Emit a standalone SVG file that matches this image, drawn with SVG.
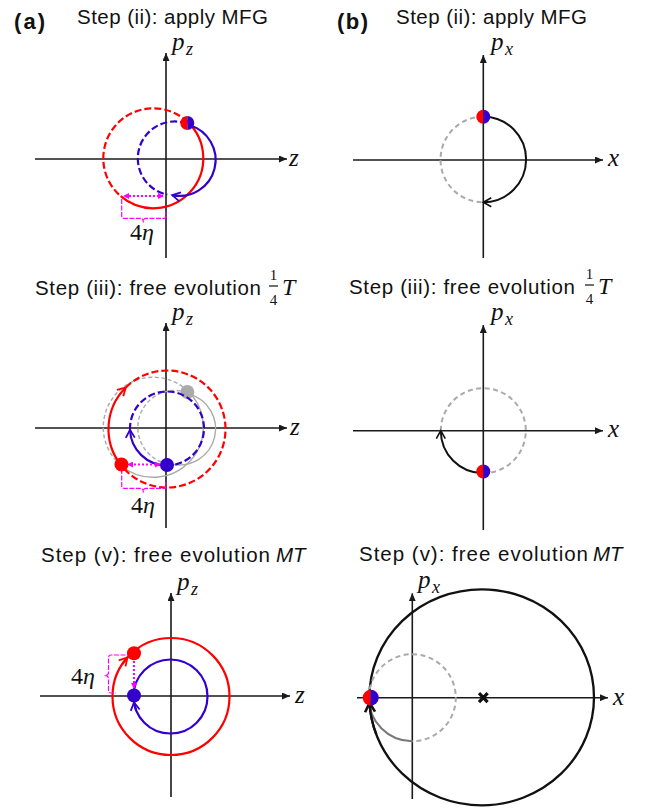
<svg xmlns="http://www.w3.org/2000/svg" width="648" height="808" viewBox="0 0 648 808">
<style>
.title{font-family:"Liberation Sans",Arial,sans-serif;font-size:20.5px;fill:#111}
.lbl{font-family:"Liberation Sans",Arial,sans-serif;font-size:22px;font-weight:bold;fill:#111}
.m{font-family:"Liberation Serif","Times New Roman",serif;font-style:italic;font-size:25px;fill:#111}
.ms{font-family:"Liberation Serif","Times New Roman",serif;font-style:italic;font-size:18px;fill:#111}
.mu{font-family:"Liberation Serif","Times New Roman",serif;font-size:24px;fill:#111}
.fr{font-family:"Liberation Serif","Times New Roman",serif;font-size:15px;fill:#111}
.axis{stroke:#1a1a1a;stroke-width:1.6;fill:none;marker-end:url(#ax)}
.red{stroke:#f00;stroke-width:2.2;fill:none}
.blue{stroke:#3300cc;stroke-width:2.2;fill:none}
.dash{stroke-dasharray:7 3}
.gry{stroke:#aaa;stroke-width:1.4;fill:none}
.gdash{stroke-dasharray:4 2.5}
.gd{stroke:#aaa;stroke-width:2;fill:none;stroke-dasharray:5 3.5}
.blk{stroke:#111;stroke-width:2;fill:none}
.mag{stroke:#f0f;stroke-width:2;fill:none;stroke-dasharray:2 2}
.brace{stroke:#f0f;stroke-width:1.2;fill:none;stroke-dasharray:5 1.5}
</style>
<defs>
<marker id="ax" viewBox="0 0 8 7" refX="8" refY="3.5" markerWidth="8" markerHeight="7" markerUnits="userSpaceOnUse" orient="auto"><path d="M0,0 L8,3.5 L0,7 z" fill="#1a1a1a"/></marker>
<marker id="vR" viewBox="-1 -1 11 11" refX="8" refY="4.5" markerWidth="11" markerHeight="11" markerUnits="userSpaceOnUse" orient="auto" overflow="visible"><path d="M0,0 L8,4.5 L0,9" fill="none" stroke="#f00" stroke-width="1.8"/></marker>
<marker id="vB" viewBox="-1 -1 11 11" refX="8" refY="4.5" markerWidth="11" markerHeight="11" markerUnits="userSpaceOnUse" orient="auto" overflow="visible"><path d="M0,0 L8,4.5 L0,9" fill="none" stroke="#3300cc" stroke-width="1.8"/></marker>
<marker id="vK" viewBox="-1 -1 11 11" refX="8" refY="4.5" markerWidth="11" markerHeight="11" markerUnits="userSpaceOnUse" orient="auto" overflow="visible"><path d="M0,0 L8,4.5 L0,9" fill="none" stroke="#111" stroke-width="1.6"/></marker>
<marker id="vKt" viewBox="-1 -1 12 12" refX="9" refY="5" markerWidth="12" markerHeight="12" markerUnits="userSpaceOnUse" orient="auto" overflow="visible"><path d="M0,0 L9,5 L0,10" fill="none" stroke="#111" stroke-width="2.6"/></marker>
<marker id="mg" viewBox="0 0 6 6" refX="5" refY="3" markerWidth="6" markerHeight="6" markerUnits="userSpaceOnUse" orient="auto-start-reverse"><path d="M0,0 L6,3 L0,6 z" fill="#f0f"/></marker>
<g id="rb"><path d="M0,-7 A7,7 0 0 0 0,7 Z" fill="#f00"/><path d="M0,-7 A7,7 0 0 1 0,7 Z" fill="#3300cc"/></g>
<g id="rb8"><path d="M0,-8 A8,8 0 0 0 0,8 Z" fill="#f00"/><path d="M0,-8 A8,8 0 0 1 0,8 Z" fill="#3300cc"/></g>
</defs>
<rect width="648" height="808" fill="#fff"/>

<!-- Labels and titles -->
<g id="titles">
<text class="lbl" x="14" y="29" textLength="31">(a)</text>
<text class="lbl" x="337" y="29" textLength="31">(b)</text>
<text class="title" x="77" y="24" textLength="191">Step (ii): apply MFG</text>
<text class="title" x="396" y="24" textLength="191">Step (ii): apply MFG</text>
<text class="title" x="35" y="295" textLength="226">Step (iii): free evolution</text>
<text class="fr" x="273.5" y="280" text-anchor="middle">1</text>
<line x1="269" y1="286" x2="278" y2="286" stroke="#111" stroke-width="1.2"/>
<text class="fr" x="273.5" y="305" text-anchor="middle">4</text>
<text class="mu" x="282" y="295" font-style="italic">T</text>
<text class="title" x="349" y="294" textLength="226">Step (iii): free evolution</text>
<text class="fr" x="589.5" y="279" text-anchor="middle">1</text>
<line x1="585" y1="285" x2="594" y2="285" stroke="#111" stroke-width="1.2"/>
<text class="fr" x="589.5" y="304" text-anchor="middle">4</text>
<text class="mu" x="598" y="294" font-style="italic">T</text>
<text class="title" x="41" y="562" textLength="229">Step (v): free evolution</text>
<text class="title" x="276" y="562" font-style="italic">MT</text>
<text class="title" x="359" y="561" textLength="229">Step (v): free evolution</text>
<text class="title" x="593" y="561" font-style="italic">MT</text>
</g>

<!-- Panel (a) step ii -->
<g id="panel-a-ii">
<line class="axis" x1="35" y1="159" x2="287" y2="159"/>
<line class="axis" x1="166" y1="258" x2="166" y2="53"/>
<text class="m" x="172" y="50">p</text><text class="ms" x="186" y="55">z</text>
<text class="m" x="289" y="166">z</text>
<path class="red dash" d="M187.8,122.1 A50,50 0 1 0 120.7,196.2"/>
<path class="red" d="M187.8,122.1 A50,50 0 0 1 120.7,196.2"/>
<path class="blue dash" d="M186.9,123.5 A37,37 0 1 0 167.3,194.7"/>
<path class="blue" d="M189.3,125.2 A36,36 0 0 1 172.2,195.1" marker-end="url(#vB)"/>
<path class="mag" d="M163,196 L124,196" marker-start="url(#mg)" marker-end="url(#mg)"/>
<path class="brace" d="M121.7,199 L121.7,216 Q121.7,218.3 124,218.3 L141,218.3 Q143.3,218.3 143.3,222.5 Q143.3,218.3 145.6,218.3 L164,218.3 Q166,218.3 166,216 L166,212"/>
<text class="mu" x="130" y="240">4<tspan font-style="italic">η</tspan></text>
<use href="#rb" transform="translate(187.3,123)"/>
</g>

<!-- Panel (b) step ii -->
<g id="panel-b-ii">
<line class="axis" x1="353" y1="160" x2="603" y2="160"/>
<line class="axis" x1="483.3" y1="258" x2="483.3" y2="55"/>
<text class="m" x="491" y="50">p</text><text class="ms" x="505" y="55">x</text>
<text class="m" x="608" y="166">x</text>
<path class="gd" d="M483.3,116.7 A42.8,42.8 0 0 0 483.3,202.3"/>
<path class="blk" d="M483.3,116.7 A42.8,42.8 0 0 1 483.3,202.3" marker-end="url(#vK)"/>
<use href="#rb" transform="translate(483.3,116.7)"/>
</g>

<!-- Panel (a) step iii -->
<g id="panel-a-iii">
<line class="axis" x1="35" y1="428" x2="287" y2="428"/>
<line class="axis" x1="166" y1="528" x2="166" y2="323"/>
<text class="m" x="172" y="320">p</text><text class="ms" x="186" y="325">z</text>
<text class="m" x="290" y="435">z</text>
<g transform="translate(0,269)">
<path class="gry gdash" d="M187.8,122.1 A50,50 0 1 0 120.7,196.2"/>
<path class="gry" d="M187.8,122.1 A50,50 0 0 1 120.7,196.2"/>
<path class="gry gdash" d="M186.9,123.5 A37,37 0 1 0 167.3,194.7"/>
<path class="gry" d="M189.3,125.2 A36,36 0 0 1 172.2,195.1"/>
<circle cx="187.3" cy="123" r="7" fill="#aaa"/>
</g>
<path class="red" d="M120.8,464.9 A58.5,58.5 0 0 1 125.8,387.5" marker-end="url(#vR)"/>
<path class="red dash" d="M125.8,387.5 A58.5,58.5 0 1 1 120.8,464.9"/>
<path class="blue" d="M167,465.5 A37,37 0 0 1 130,429.8" marker-end="url(#vB)"/>
<path class="blue dash" d="M130,429.8 A37,37 0 1 1 167,465.5"/>
<path class="mag" d="M160,464.5 L128,464.5" marker-start="url(#mg)" marker-end="url(#mg)"/>
<path class="brace" transform="translate(0,270)" d="M121.7,199 L121.7,216 Q121.7,218.3 124,218.3 L141,218.3 Q143.3,218.3 143.3,222.5 Q143.3,218.3 145.6,218.3 L164,218.3 Q166,218.3 166,216 L166,212"/>
<text class="mu" x="131" y="513">4<tspan font-style="italic">η</tspan></text>
<circle cx="121.5" cy="464.5" r="7" fill="#f00"/>
<circle cx="167" cy="465" r="7" fill="#3300cc"/>
</g>

<!-- Panel (b) step iii -->
<g id="panel-b-iii">
<line class="axis" x1="353" y1="430.7" x2="603" y2="430.7"/>
<line class="axis" x1="483.3" y1="530" x2="483.3" y2="325"/>
<text class="m" x="491" y="320">p</text><text class="ms" x="505" y="325">x</text>
<text class="m" x="608" y="437">x</text>
<path class="gd" d="M440.8,430.7 A42.5,42.5 0 1 1 483.3,473.2"/>
<path class="blk" d="M483.3,473.2 A42.5,42.5 0 0 1 440.8,430.7" marker-end="url(#vK)"/>
<use href="#rb" transform="translate(483.3,471.5)"/>
</g>

<!-- Panel (a) step v -->
<g id="panel-a-v">
<line class="axis" x1="40" y1="696" x2="290" y2="696"/>
<line class="axis" x1="171" y1="797" x2="171" y2="593"/>
<text class="m" x="177" y="590">p</text><text class="ms" x="191" y="595">z</text>
<text class="m" x="295" y="703">z</text>
<circle class="red" cx="171" cy="696.5" r="58.5"/>
<circle class="blue" cx="170.5" cy="696.5" r="37"/>
<path class="red" d="M122.5,663.8 A58.5,58.5 0 0 1 127.5,657.4" marker-end="url(#vR)"/>
<path class="blue" d="M136.2,710.4 A37,37 0 0 1 134,702.3" marker-end="url(#vB)"/>
<path class="mag" d="M134,661 L134,688" marker-end="url(#mg)"/>
<path class="brace" d="M132,655 L111,655 Q108.5,655 108.5,657.5 L108.5,672.5 Q108.5,675.5 104.5,675.5 Q108.5,675.5 108.5,678.5 L108.5,690.5 Q108.5,693 111,693 L116,693"/>
<text class="mu" x="71" y="684">4<tspan font-style="italic">η</tspan></text>
<circle cx="134" cy="653.3" r="7" fill="#f00"/>
<circle cx="134" cy="695.5" r="7" fill="#3300cc"/>
</g>

<!-- Panel (b) step v -->
<g id="panel-b-v">
<line class="axis" x1="357" y1="697.7" x2="608" y2="697.7"/>
<line class="axis" x1="412.3" y1="799" x2="412.3" y2="593.3"/>
<text class="m" x="418" y="588">p</text><text class="ms" x="432" y="593">x</text>
<text class="m" x="613" y="705">x</text>
<ellipse cx="481.7" cy="697.3" rx="112.3" ry="108" fill="none" stroke="#111" stroke-width="2.3"/>
<path class="gd" d="M368.8,697.7 A43.5,43.5 0 1 1 412.3,741.2"/>
<path d="M412.3,741.2 A43.5,43.5 0 0 1 368.8,697.7" fill="none" stroke="#777" stroke-width="2"/>
<path d="M376.2,734.2 A112.3,108 0 0 1 369.55,702.95" fill="none" stroke="#111" stroke-width="2.3" marker-end="url(#vKt)"/>
<path d="M479,693.2 L487.6,702.2 M487.6,693.2 L479,702.2" stroke="#111" stroke-width="3.2"/>
<use href="#rb8" transform="translate(370.7,697.7)"/>
</g>
</svg>
